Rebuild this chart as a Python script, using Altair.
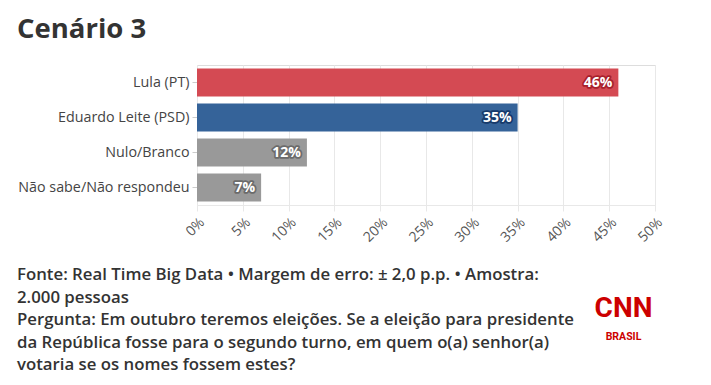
import altair as alt
import pandas as pd

categories = ["Lula (PT)", "Eduardo Leite (PSD)", "Nulo/Branco", "Não sabe/Não respondeu"]
values = [46, 35, 12, 7]
bar_colors = ["#d44a53", "#356399", "#999999", "#999999"]
halo_colors = ["#a8212c", "#163a6b", "#6b6b6b", "#6b6b6b"]
x_ticks = [0, 5, 10, 15, 20, 25, 30, 35, 40, 45, 50]

title_text = "Cenário 3"
footer_lines = [
    "Fonte: Real Time Big Data • Margem de erro: ± 2,0 p.p. • Amostra:",
    "2.000 pessoas",
    "Pergunta: Em outubro teremos eleições. Se a eleição para presidente",
    "da República fosse para o segundo turno, em quem o(a) senhor(a)",
    "votaria se os nomes fossem estes?",
]

df = pd.DataFrame({
    "cat": categories,
    "val": values,
    "color": bar_colors,
    "halo": halo_colors,
    "label": [f"{v}%" for v in values],
})

FONT = "Open Sans"

y_enc = alt.Y("cat:N", sort=categories, title=None,
              scale=alt.Scale(paddingInner=0.2, paddingOuter=0.1),
              axis=alt.Axis(labelFont=FONT, labelFontSize=14.3, labelColor="#444444",
                            tickColor="#cccccc", tickSize=5, labelPadding=3,
                            domain=False, grid=False))
x_enc = alt.X("val:Q", title=None,
              scale=alt.Scale(domain=[0, 50], nice=False),
              axis=alt.Axis(values=x_ticks, labelExpr="datum.value + '%'",
                            labelAngle=315, labelFont=FONT, labelFontSize=14,
                            labelColor="#555555", gridColor="#e8e8e8",
                            domainColor="#e8e8e8", tickColor="#e8e8e8",
                            tickSize=6, labelPadding=4))

base = alt.Chart(df)

bars = base.mark_bar().encode(
    x=x_enc, y=y_enc,
    color=alt.Color("color:N", scale=None),
)

halo = base.mark_text(align="right", baseline="middle", dx=-6, font=FONT,
                      fontSize=14, fontWeight="bold", strokeWidth=3.5,
                      strokeJoin="round").encode(
    x="val:Q", y=alt.Y("cat:N", sort=categories),
    text="label:N",
    fill=alt.Color("halo:N", scale=None),
    stroke=alt.Color("halo:N", scale=None),
)

labels = base.mark_text(align="right", baseline="middle", dx=-6, font=FONT,
                        fontSize=14, fontWeight="bold", color="white").encode(
    x="val:Q", y=alt.Y("cat:N", sort=categories),
    text="label:N",
)

title_df = pd.DataFrame({"t": [title_text]})
title = alt.Chart(title_df).mark_text(
    align="left", baseline="alphabetic", font=FONT, fontSize=27.5,
    fontWeight="bold", color="#333333").encode(
    text="t:N", x=alt.value(-180), y=alt.value(-27))

footer_df = pd.DataFrame({"t": ["\n".join(footer_lines)]})
footer = alt.Chart(footer_df).mark_text(
    align="left", baseline="alphabetic", font=FONT, fontSize=16.8,
    fontWeight=600, color="#333333", lineBreak="\n", lineHeight=22.5).encode(
    text="t:N", x=alt.value(-180), y=alt.value(215))

cnn_df = pd.DataFrame({"t": ["CNN"]})
cnn = alt.Chart(cnn_df).mark_text(
    align="center", baseline="alphabetic", font="Roboto", fontSize=28,
    fontWeight="bold", color="#cc0000").encode(
    text="t:N", x=alt.value(426.5), y=alt.value(252))

brasil_df = pd.DataFrame({"t": ["BRASIL"]})
brasil = alt.Chart(brasil_df).mark_text(
    align="center", baseline="alphabetic", font="Roboto", fontSize=10.5,
    fontWeight="bold", color="#cc0000").encode(
    text="t:N", x=alt.value(426.5), y=alt.value(275))

chart = alt.layer(bars, halo, labels, title, footer, cnn, brasil).properties(
    width=458, height=140,
    autosize=alt.AutoSizeParams(type="none"),
    padding={"left": 189, "top": 57, "right": 48, "bottom": 172},
).configure_view(stroke=None).configure(background="white")

chart.save("out.html", embed_options={"renderer": "svg", "actions": False})
